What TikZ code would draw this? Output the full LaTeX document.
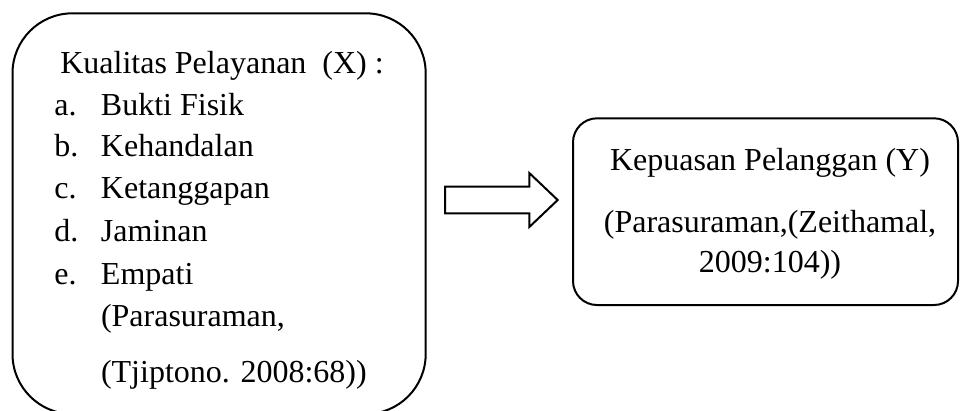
\documentclass[tikz,border=0pt]{standalone}
\usepackage{fontspec}
\setmainfont{Liberation Serif}
\usetikzlibrary{fit}

\begin{document}
\begin{tikzpicture}[x=0.375pt,y=-0.375pt,line width=0.75pt,
  every node/.style={font=\fontsize{12}{14}\selectfont,inner sep=0pt},
  kotak/.style={draw,rectangle},
  baris/.style={anchor=base west},
  tengah/.style={anchor=base}]
\useasboundingbox (0,0) rectangle (961,410);
% kotak variabel X dan Y
\node[kotak,rounded corners=22.5pt,fit={(12.5,13.3) (425.7,414)}] (kualitas) {};
\node[kotak,rounded corners=9pt,fit={(573,118.3) (958,305)}] (kepuasan) {};
% isi kotak X
\node[baris] (judulX) at (59.3,73.5) {Kualitas Pelayanan\ \ (X) :};
\node[baris] (bukti) at (53.3,115) {\makebox[17.5pt][l]{a.}Bukti Fisik};
\node[baris] (handal) at (53.3,156.7) {\makebox[17.5pt][l]{b.}Kehandalan};
\node[baris] (tanggap) at (53.3,198.5) {\makebox[17.5pt][l]{c.}Ketanggapan};
\node[baris] (jamin) at (53.3,241) {\makebox[17.5pt][l]{d.}Jaminan};
\node[baris] (empati) at (53.3,284) {\makebox[17.5pt][l]{e.}Empati};
\node[baris] (sumberX) at (100,326.7) {(Parasuraman,};
\node[baris] (tahunX) at (100,382.5) {(Tjiptono. 2008:68))};
% isi kotak Y
\node[tengah] (judulY) at (770,170) {Kepuasan Pelanggan (Y)};
\node[tengah] (sumberY) at (770,232) {(Parasuraman,(Zeithamal,};
\node[tengah] (tahunY) at (770,272) {2009:104))};
% panah blok
\draw[line join=miter] (445,186.7) -- (529.3,186.7) -- (529.3,173) -- (557.7,200)
  -- (529.3,227) -- (529.3,213.3) -- (445,213.3) -- cycle;
\end{tikzpicture}
\end{document}
